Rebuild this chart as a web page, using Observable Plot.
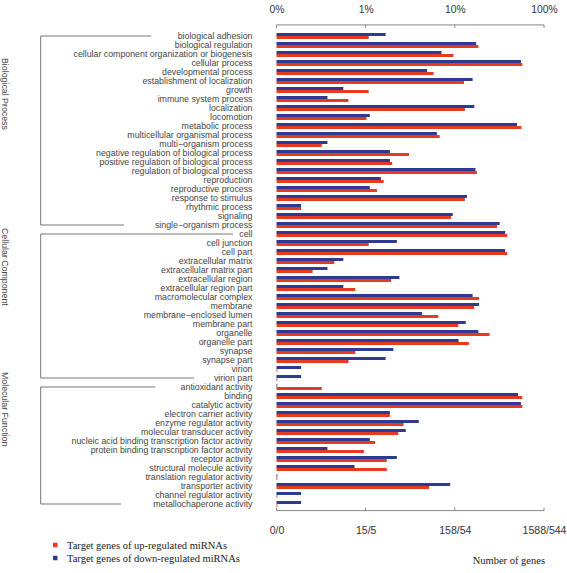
<!DOCTYPE html>
<html><head><meta charset="utf-8">
<script src="https://cdn.jsdelivr.net/npm/d3@7"></script>
<script src="https://cdn.jsdelivr.net/npm/@observablehq/plot@0.6"></script>
<style>body{margin:0;background:#fff}</style>
</head><body><div id="chart"></div>
<script>
const categories = [
"biological adhesion","biological regulation","cellular component organization or biogenesis","cellular process","developmental process","establishment of localization","growth","immune system process","localization","locomotion","metabolic process","multicellular organismal process","multi\u2212organism process","negative regulation of biological process","positive regulation of biological process","regulation of biological process","reproduction","reproductive process","response to stimulus","rhythmic process","signaling","single\u2212organism process",
"cell","cell junction","cell part","extracellular matrix","extracellular matrix part","extracellular region","extracellular region part","macromolecular complex","membrane","membrane\u2212enclosed lumen","membrane part","organelle","organelle part","synapse","synapse part","virion","virion part",
"antioxidant activity","binding","catalytic activity","electron carrier activity","enzyme regulator activity","molecular transducer activity","nucleic acid binding transcription factor activity","protein binding transcription factor activity","receptor activity","structural molecule activity","translation regulator activity","transporter activity","channel regulator activity","metallochaperone activity"];

// percent of genes, target genes of up-regulated miRNAs (red)
const upPct = [
1.06, 18.0, 9.46, 56, 5.66, 12.4, 1.06, 0.628, 12.7, 1.0, 54.6, 6.63, 0.315, 3.0, 1.94, 17.3, 1.56, 1.31, 12.7, 0.185, 8.86, 29.2,
37.9, 1.06, 37.9, 0.436, 0.249, 1.89, 0.749, 18.3, 16.1, 6.4, 10.7, 24.0, 14.1, 0.749, 0.628, 0, 0,
0.315, 56, 56, 1.83, 2.61, 2.27, 1.25, 0.937, 1.69, 1.69, 0, 5.06, 0, 0];

// percent of genes, target genes of down-regulated miRNAs (blue)
const downPct = [
1.64, 17.0, 6.95, 54, 4.79, 15.5, 0.55, 0.365, 16.2, 1.09, 48.8, 6.16, 0.365, 1.83, 1.83, 16.7, 1.45, 1.09, 13.4, 0.185, 9.29, 31.2,
35.9, 2.19, 35.9, 0.55, 0.365, 2.34, 0.55, 15.5, 18.3, 4.2, 13.0, 18.0, 10.8, 2.0, 1.64, 0.185, 0.185,
0, 50.2, 54, 1.83, 3.86, 2.76, 1.09, 0.365, 2.19, 0.735, 0, 8.69, 0.185, 0.185];

const groupNames = ["Biological Process", "Cellular Component", "Molecular Function"];
const groupSizes = [22, 17, 14];

const tickValues = [0.1, 1, 10, 100];
const topTickLabels = ["0%", "1%", "10%", "100%"];
const bottomTickLabels = ["0/0", "15/5", "158/54", "1588/544"];

const seriesNames = ["Target genes of up-regulated miRNAs", "Target genes of down-regulated miRNAs"];
const xLabel = "Number of genes";

const RED = "#E83A1E", BLUE = "#2E3A8F";
const W = 567, H = 573;
const mL = 276.5, mR = 23, mT = 26.9, mB = 59.9;

const downRows = categories.map((c, i) => ({cat: c, v: downPct[i]}));
const upRows = categories.map((c, i) => ({cat: c, v: upPct[i]}));
const xEnd = d => Math.max(d.v, 0.1);

const plot = Plot.plot({
  width: W, height: H,
  marginLeft: mL, marginRight: mR, marginTop: mT, marginBottom: mB,
  style: {fontFamily: "'Liberation Sans', Arial, sans-serif", background: "#fff", overflow: "visible"},
  x: {type: "log", domain: [0.1, 100]},
  y: {type: "band", domain: categories, padding: 0.34},
  marks: [
    Plot.barX(downRows, {y: "cat", x1: () => 0.1, x2: xEnd, insetBottom: 3, insetRight: -0.8, fill: BLUE}),
    Plot.barX(upRows, {y: "cat", x1: () => 0.1, x2: xEnd, insetTop: 3, insetRight: -0.8, fill: RED}),
    Plot.axisX({anchor: "top", ticks: tickValues, tickFormat: d => topTickLabels[tickValues.indexOf(d)],
      tickSize: 0, tickPadding: 14, fontSize: 10.3, color: "#333", label: null}),
    Plot.axisX({anchor: "bottom", ticks: tickValues, tickFormat: d => bottomTickLabels[tickValues.indexOf(d)],
      tickSize: 0, tickPadding: 13, fontSize: 10.5, color: "#333", label: null}),
    Plot.axisY({tickSize: 0, tickPadding: 24.5, fontSize: 8.8, color: "#444", label: null})
  ]
});
document.getElementById("chart").appendChild(plot);

const svg = d3.select(plot);
const xs = plot.scale("x"), ys = plot.scale("y");
const cy = c => ys.apply(c) + ys.bandwidth / 2;
const g = svg.append("g").attr("text-anchor", "start");

// axis lines with inward ticks
const x0 = xs.apply(0.1), x1 = xs.apply(100);
const topY = mT - 2, botY = H - mB - 2.5;
g.append("line").attr("x1", x0).attr("x2", x1).attr("y1", topY).attr("y2", topY).attr("stroke", "#888");
g.append("line").attr("x1", x0).attr("x2", x1).attr("y1", botY).attr("y2", botY).attr("stroke", "#888");
for (const t of tickValues) {
  const tx = xs.apply(t);
  g.append("line").attr("x1", tx).attr("x2", tx).attr("y1", topY).attr("y2", topY + 3).attr("stroke", "#888");
  g.append("line").attr("x1", tx).attr("x2", tx).attr("y1", botY).attr("y2", botY - 3).attr("stroke", "#888");
}

// group brackets
const bracketX = 40.7;
const lineEnds = [[151, 124], [233, 194], [155, 121]];
const labelStarts = [58, 228, 372];
let start = 0;
groupNames.forEach((name, gi) => {
  const first = categories[start], last = categories[start + groupSizes[gi] - 1];
  const yTop = cy(first), yBot = cy(last);
  g.append("path")
    .attr("d", `M${lineEnds[gi][0]},${yTop}H${bracketX}V${yBot}H${lineEnds[gi][1]}`)
    .attr("fill", "none").attr("stroke", "#777").attr("stroke-width", 1);
  g.append("text").text(name)
    .attr("transform", `translate(5.5,${labelStarts[gi]}) rotate(90)`)
    .attr("text-anchor", "start")
    .attr("dy", "0.35em").attr("font-size", 8.8).attr("fill", "#444")
    .attr("font-family", "'Liberation Sans', Arial, sans-serif");
  start += groupSizes[gi];
});

// legend
[[RED, 545], [BLUE, 558]].forEach(([col, ly], i) => {
  g.append("rect").attr("x", 53).attr("y", ly - 2.25).attr("width", 4.5).attr("height", 4.5).attr("fill", col);
  g.append("text").text(seriesNames[i]).attr("x", 67).attr("y", ly)
    .attr("text-anchor", "start")
    .attr("dominant-baseline", "central").attr("font-size", 10.5).attr("fill", "#222")
    .attr("font-family", "'Liberation Serif', 'Times New Roman', serif");
});
g.append("text").text(xLabel).attr("x", 545).attr("y", 560).attr("text-anchor", "end")
  .attr("dominant-baseline", "central").attr("font-size", 10.5).attr("fill", "#222")
  .attr("font-family", "'Liberation Serif', 'Times New Roman', serif");
</script>
</body></html>
